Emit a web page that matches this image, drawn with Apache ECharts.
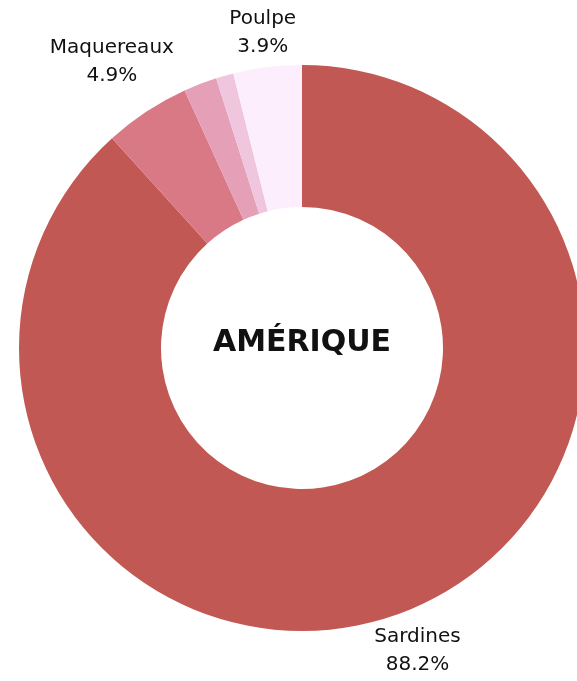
<!DOCTYPE html>
<html>
<head>
<meta charset="utf-8">
<script src="https://cdn.jsdelivr.net/npm/echarts@6/dist/echarts.min.js"></script>
<style>
  html, body { margin: 0; padding: 0; background: #fff; }
  #chart { width: 577px; height: 681px; }
</style>
</head>
<body>
<div id="chart"></div>
<script>
// parts du total, en %
var especes = ["Sardines", "Maquereaux", "Autre 1", "Autre 2", "Poulpe"];
var parts = [88.2, 4.9, 1.9, 1.0, 3.9];
var couleurs = ["#c25853", "#d97986", "#e59fb6", "#f0c6df", "#fdeefd"];
var etiquetees = ["Sardines", "Maquereaux", "Poulpe"];
var region = "AMÉRIQUE";

var chart = echarts.init(document.getElementById("chart"), null, { renderer: "canvas" });

var data = especes.map(function (n, i) {
  var show = etiquetees.indexOf(n) >= 0;
  return {
    name: n,
    value: parts[i],
    itemStyle: { color: couleurs[i] },
    label: { show: show },
    labelLine: { length: n === "Maquereaux" ? 63 : 38 }
  };
});

chart.setOption({
  animation: false,
  graphic: [{
    type: "text",
    x: 302,
    y: 343,
    style: {
      text: region,
      align: "center",
      verticalAlign: "middle",
      fontFamily: "DejaVu Sans",
      fontWeight: "bold",
      fontSize: 30,
      fill: "#111"
    },
    z: 10
  }],
  series: [{
    type: "pie",
    center: [302, 348],
    radius: [141, 283],
    startAngle: 90,
    clockwise: true,
    avoidLabelOverlap: false,
    itemStyle: { borderWidth: 0 },
    emphasis: { disabled: true },
    label: {
      position: "outside",
      distanceToLabelLine: 0,
      formatter: function (p) { return p.name + "\n" + p.value.toFixed(1) + "%"; },
      fontFamily: "DejaVu Sans",
      fontSize: 20,
      lineHeight: 28,
      color: "#111"
    },
    labelLine: { show: false, length2: 0 },
    labelLayout: function () { return { align: "center", verticalAlign: "middle", dy: 3 }; },
    data: data
  }]
});
</script>
</body>
</html>
